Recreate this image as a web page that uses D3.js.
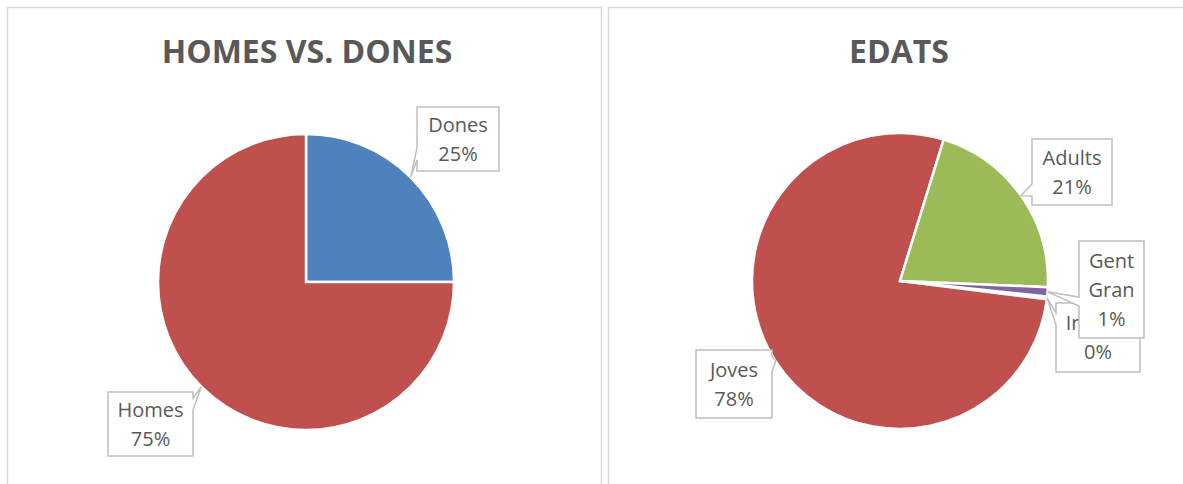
<!DOCTYPE html>
<html><head><meta charset="utf-8">
<script src="https://cdn.jsdelivr.net/npm/d3@7"></script>
<style>body{margin:0;background:#fff}svg{display:block}</style>
</head><body>
<svg id="c" width="1183" height="484"></svg>
<script>
// ---- data ----
const sexCategories = ["Dones", "Homes"];
const sexValues = [25, 75];
const ageCategories = ["Infants", "Joves", "Adults", "Gent Gran"];
const ageValues = [0.3, 77.8, 20.9, 1.0];
const titles = ["HOMES VS. DONES", "EDATS"];
const palette = ["#4F81BD", "#C0504D", "#9BBB59", "#8064A2"];

// ---- layout ----
const svg = d3.select("#c");
const FONT = "'Open Sans', sans-serif";
const TXT = "#595959";

// panel frames
svg.append("rect").attr("x", 7.5).attr("y", 7.5).attr("width", 594).attr("height", 490)
  .attr("fill", "#fff").attr("stroke", "#d9d9d9").attr("stroke-width", 1.5);
svg.append("rect").attr("x", 608.5).attr("y", 7.5).attr("width", 600).attr("height", 490)
  .attr("fill", "#fff").attr("stroke", "#d9d9d9").attr("stroke-width", 1.5);

const charts = [
  {title: titles[0], cats: sexCategories, vals: sexValues, cx: 306, cy: 282, start: 0, tx: 307,
   boxes: {
     "Dones": {x: 417, y: 107, w: 82, h: 64, side: "left", n1: 148, n2: 160},
     "Homes": {x: 108, y: 392, w: 85, h: 64, side: "right", n1: 398, n2: 410}
   }},
  {title: titles[1], cats: ageCategories, vals: ageValues, cx: 900, cy: 281, start: 96, tx: 899,
   boxes: {
     "Infants": {x: 1056, y: 303, w: 84, h: 69, side: "top", lines: ["Infants"]},
     "Joves": {x: 696, y: 350, w: 76, h: 68, side: "right", n1: 356, n2: 372},
     "Adults": {x: 1032, y: 139, w: 80, h: 66, side: "left", n1: 184, n2: 196},
     "Gent Gran": {x: 1079, y: 241, w: 65, h: 97, side: "left", n1: 297, n2: 306, lines: ["Gent", "Gran"]}
   }}
];

const R = 148;
charts.forEach(ch => {
  const g = svg.append("g");
  g.append("text").attr("x", ch.tx).attr("y", 63).attr("text-anchor", "middle")
    .attr("font-family", FONT).attr("font-weight", "bold").attr("font-size", 32)
    .attr("fill", TXT).text(ch.title);

  const data = ch.cats.map((c, i) => ({cat: c, val: ch.vals[i], color: palette[i]}));
  const total = d3.sum(data, d => d.val);
  const pie = d3.pie().sort(null).value(d => d.val)
    .startAngle(ch.start * Math.PI / 180).endAngle(ch.start * Math.PI / 180 + 2 * Math.PI);
  const arcs = pie(data);
  const arc = d3.arc().innerRadius(0).outerRadius(R);
  const pg = g.append("g").attr("transform", `translate(${ch.cx},${ch.cy})`);
  pg.selectAll("path").data(arcs).join("path")
    .attr("d", arc).attr("fill", d => d.data.color)
    .attr("stroke", "#fff").attr("stroke-width", 2.5).attr("stroke-linejoin", "miter");

  // labels (callouts)
  arcs.forEach(a => {
    const b = ch.boxes[a.data.cat];
    if (!b) return;
    const mid = (a.startAngle + a.endAngle) / 2;
    const tip = [ch.cx + R * Math.sin(mid), ch.cy - R * Math.cos(mid)];
    const x0 = b.x, y0 = b.y, x1 = b.x + b.w, y1 = b.y + b.h;
    let p;
    if (b.side === "left") {
      p = [[x0, y0], [x1, y0], [x1, y1], [x0, y1], [x0, b.n2], tip, [x0, b.n1]];
    } else if (b.side === "right") {
      p = [[x0, y0], [x1, y0], [x1, b.n1], tip, [x1, b.n2], [x1, y1], [x0, y1]];
    } else {
      p = [[x0, y0 + 10], tip, [x0, y0 + 22], [x0, y1], [x1, y1], [x1, y0], [x0, y0]];
    }
    g.append("path").attr("d", d3.line()(p) + "Z")
      .attr("fill", "#fff").attr("stroke", "#bfbfbf").attr("stroke-width", 1.5);
    const lines = (b.lines || [a.data.cat]).concat([Math.round(a.data.val / total * 100) + "%"]);
    const lh = 29;
    const cyb = (y0 + y1) / 2 - (lines.length - 1) * lh / 2 + 7;
    lines.forEach((t, i) => {
      g.append("text").attr("x", (x0 + x1) / 2).attr("y", cyb + i * lh)
        .attr("text-anchor", "middle").attr("font-family", FONT).attr("font-size", 20)
        .attr("fill", TXT).text(t);
    });
  });
});
</script>
</body></html>
